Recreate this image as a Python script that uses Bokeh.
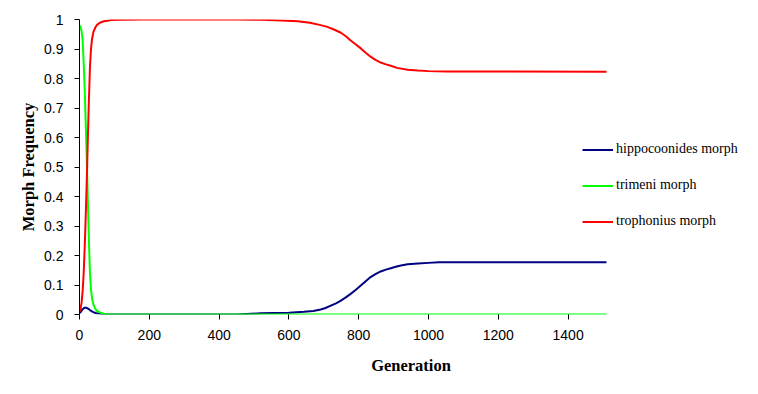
from bokeh.plotting import figure
from bokeh.models import Range1d, FixedTicker, Legend, LegendItem
from bokeh.embed import file_html
from bokeh.resources import INLINE

# ---- data ----
hippo_gen = [0, 3, 6, 9, 12, 15, 19, 23, 27, 32, 38, 46, 55, 65, 80, 450, 519, 557, 600,
             643, 670, 691, 705, 720, 735, 749, 763, 777, 792, 806, 820, 834, 848, 863, 878,
             892, 906, 921, 940, 970, 1000, 1030, 1510]
hippo_freq = [0.005, 0.008, 0.013, 0.018, 0.021, 0.023, 0.023, 0.021, 0.018, 0.013, 0.009, 0.005,
              0.003, 0.002, 0.0, 0.0, 0.004, 0.005, 0.006, 0.009, 0.012, 0.017, 0.022,
              0.030, 0.038, 0.047, 0.058, 0.070, 0.084, 0.098, 0.113, 0.127, 0.137, 0.146,
              0.152, 0.157, 0.162, 0.166, 0.170, 0.173, 0.175, 0.177, 0.177]

trimeni_gen = [0, 3, 6, 9, 12, 15, 18, 21, 24, 27, 30, 33, 36, 40, 45, 50, 60, 70, 80, 90, 1510]
trimeni_freq = [0.98, 0.975, 0.96, 0.93, 0.85, 0.76, 0.64, 0.52, 0.38, 0.25, 0.14, 0.085, 0.055,
                0.033, 0.02, 0.012, 0.006, 0.003, 0.001, 0.0, 0.0]

troph_gen = [0, 3, 6, 9, 12, 15, 18, 21, 24, 27, 30, 33, 36, 40, 45, 50, 60, 70, 80, 90, 120,
             180, 450, 520, 580, 625, 660, 691, 710, 729, 749, 763, 777, 792, 806, 820, 834,
             848, 863, 878, 892, 910, 940, 970, 1000, 1050, 1510]
troph_freq = [0.01, 0.02, 0.04, 0.08, 0.14, 0.23, 0.34, 0.46, 0.60, 0.73, 0.84, 0.90, 0.935,
              0.958, 0.972, 0.982, 0.990, 0.994, 0.996, 0.998, 0.999, 1.0, 1.0, 0.999, 0.997,
              0.994, 0.989, 0.981, 0.975, 0.966, 0.955, 0.943, 0.929, 0.915, 0.902, 0.887,
              0.874, 0.863, 0.854, 0.848, 0.843, 0.836, 0.830, 0.827, 0.825, 0.824, 0.823]

series_names = ["hippocoonides morph", "trimeni morph", "trophonius morph"]
series_colors = ["#000080", "#00FF00", "#FF0000"]

x_ticks = [0, 200, 400, 600, 800, 1000, 1200, 1400]
y_ticks = [0, 0.1, 0.2, 0.3, 0.4, 0.5, 0.6, 0.7, 0.8, 0.9, 1]
y_tick_labels = ["0", "0.1", "0.2", "0.3", "0.4", "0.5", "0.6", "0.7", "0.8", "0.9", "1"]
x_min, x_max = 0, 1510

# ---- layout (pixels) ----
W, H = 742, 378
LEFT, TOP, BOTTOM_PX = 79, 19, 314      # frame edges in page pixels
DATA_RIGHT_PX = 606                      # where x_max falls
FRAME_RIGHT_PX = 742                     # frame extended so the legend is not clipped
# extend range so that x_max lands at DATA_RIGHT_PX
x_end = x_min + (x_max - x_min) * (FRAME_RIGHT_PX - LEFT) / (DATA_RIGHT_PX - LEFT)

p = figure(width=W, height=H, output_backend="svg", toolbar_location=None,
           x_range=Range1d(x_min, x_end), y_range=Range1d(0, 1),
           min_border_left=LEFT, min_border_top=TOP,
           min_border_bottom=H - BOTTOM_PX, min_border_right=W - FRAME_RIGHT_PX)
p.outline_line_color = None
p.grid.visible = False
p.background_fill_color = "white"
p.border_fill_color = "white"

xs = [hippo_gen, trimeni_gen, troph_gen]
ys = [hippo_freq, trimeni_freq, troph_freq]
renderers = []
for gx, gy, c in zip(xs, ys, series_colors):
    r = p.line(gx, gy, line_color=c, line_width=2)
    renderers.append(r)

for ax in (p.xaxis[0], p.yaxis[0]):
    ax.axis_line_color = "black"
    ax.axis_line_width = 1
    ax.major_tick_line_color = "black"
    ax.major_tick_out = 5
    ax.major_tick_in = 0
    ax.minor_tick_line_color = None
    ax.major_label_text_font = "Liberation Sans"
    ax.major_label_text_font_size = "14px"
    ax.major_label_text_color = "black"
    ax.axis_label_text_font = "Liberation Serif"
    ax.axis_label_text_font_size = "16.5px"
    ax.axis_label_text_font_style = "bold"
    ax.axis_label_text_color = "black"

# the x axis line is hidden under the green series in the reference; it must not
# run past the data end, so it is not drawn
p.xaxis[0].axis_line_color = None
p.xaxis[0].ticker = FixedTicker(ticks=x_ticks)
p.xaxis[0].major_label_standoff = 10
p.xaxis[0].axis_label = "Generation"
p.xaxis[0].axis_label_standoff = 13
p.xaxis[0].axis_label_align = "center"

p.yaxis[0].ticker = FixedTicker(ticks=y_ticks)
p.yaxis[0].major_label_overrides = {t: l for t, l in zip(y_ticks, y_tick_labels)}
p.yaxis[0].major_label_standoff = 11
p.yaxis[0].axis_label = "Morph Frequency"
p.yaxis[0].axis_label_standoff = 3

legend = Legend(
    items=[LegendItem(label=n, renderers=[r]) for n, r in zip(series_names, renderers)],
    location=(582 - LEFT, 85),
    label_text_font="Liberation Serif",
    label_text_font_size="14px",
    label_text_color="black",
    glyph_width=31, glyph_height=15, label_height=15, label_standoff=3,
    spacing=20, padding=0, margin=0,
    border_line_color=None, background_fill_alpha=0,
)
p.add_layout(legend, "center")

open("out.html", "w").write(file_html(p, INLINE))
